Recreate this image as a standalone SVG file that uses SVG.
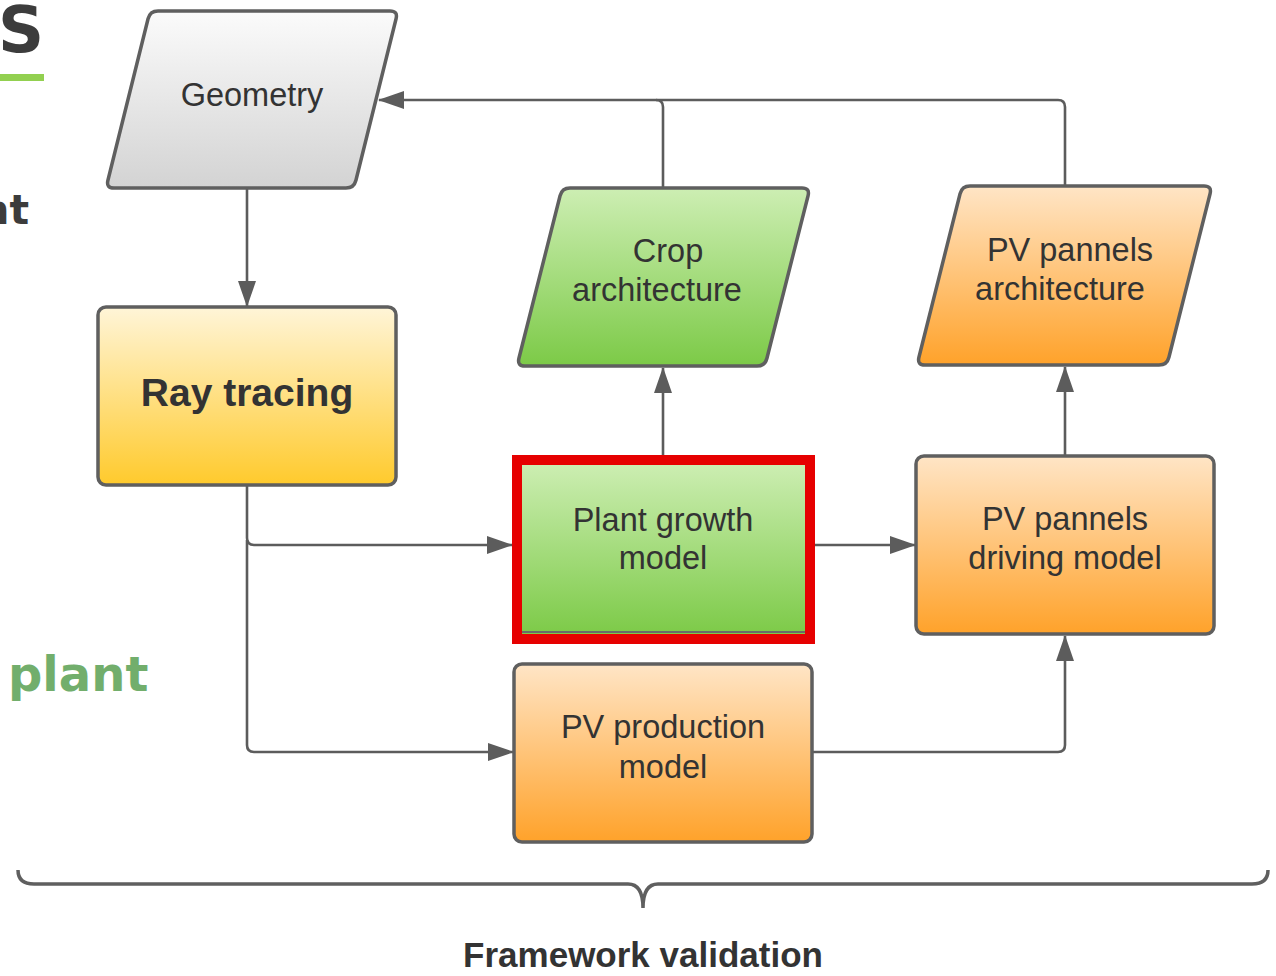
<svg xmlns="http://www.w3.org/2000/svg" width="1276" height="976" viewBox="0 0 1276 976">
  <defs>
    <linearGradient id="gGrey" x1="0" y1="0" x2="0" y2="1">
      <stop offset="0" stop-color="#fbfbfb"/>
      <stop offset="1" stop-color="#d3d3d3"/>
    </linearGradient>
    <linearGradient id="gYellow" x1="0" y1="0" x2="0" y2="1">
      <stop offset="0" stop-color="#fff5d8"/>
      <stop offset="1" stop-color="#ffca2c"/>
    </linearGradient>
    <linearGradient id="gGreen" x1="0" y1="0" x2="0" y2="1">
      <stop offset="0" stop-color="#cdeeb3"/>
      <stop offset="1" stop-color="#7cca47"/>
    </linearGradient>
    <linearGradient id="gOrange" x1="0" y1="0" x2="0" y2="1">
      <stop offset="0" stop-color="#ffe5c6"/>
      <stop offset="1" stop-color="#ffa22a"/>
    </linearGradient>
    <marker id="arrow" viewBox="0 0 26 18" refX="25" refY="9" markerWidth="26" markerHeight="18" markerUnits="userSpaceOnUse" orient="auto">
      <path d="M0,0 L26,9 L0,18 Z" fill="#5c5c5c"/>
    </marker>
    <style>
      .shape { stroke: #5f5f5f; stroke-width: 3.5; stroke-linejoin: round; }
      .label { font-family: "Liberation Sans", Arial, sans-serif; font-size: 32.5px; fill: #333333; text-anchor: middle; }
      .title { font-size: 39px; font-weight: bold; }
      .caption { font-size: 35px; font-weight: bold; }
      .conn { fill: none; stroke: #5c5c5c; stroke-width: 2.6; }
      .side { font-family: "DejaVu Sans", Verdana, sans-serif; font-weight: bold; }
    </style>
  </defs>

  <!-- fragments of the surrounding slide, clipped by the page edge -->
  <g id="slide-fragments">
    <text class="side" x="44" y="52" font-size="64" fill="#3c3c3c" text-anchor="end">S</text>
    <rect x="0" y="74" width="44" height="7" fill="#92d050"/>
    <text class="side" x="29" y="224" font-size="41" fill="#3c3c3c" text-anchor="end">nt</text>
    <text class="side" x="8" y="691" font-size="48" fill="#72ae6c">plant</text>
  </g>

  <!-- connectors -->
  <g id="connectors">
    <path class="conn" d="M247,188 V306" marker-end="url(#arrow)"/>
    <path class="conn" d="M247,486 V538 Q247,545 254,545 H512" marker-end="url(#arrow)"/>
    <path class="conn" d="M247,540 V745 Q247,752 254,752 H513" marker-end="url(#arrow)"/>
    <path class="conn" d="M815,545 H915" marker-end="url(#arrow)"/>
    <path class="conn" d="M812,752 H1058 Q1065,752 1065,745 V636" marker-end="url(#arrow)"/>
    <path class="conn" d="M663,455 V368" marker-end="url(#arrow)"/>
    <path class="conn" d="M1065,456 V367" marker-end="url(#arrow)"/>
    <path class="conn" d="M1065,186 V107 Q1065,100 1058,100 H379" marker-end="url(#arrow)"/>
    <path class="conn" d="M663,188 V107 Q663,100 656,100"/>
  </g>

  <!-- nodes -->
  <g id="geometry">
    <path class="shape" fill="url(#gGrey)" d="M158,11 H390 Q398,11 396.07,18.76 L355.93,180.24 Q354,188 346,188 H114 Q106,188 107.93,180.24 L148.07,18.76 Q150,11 158,11 Z"/>
    <text class="label" x="252" y="106">Geometry</text>
  </g>

  <g id="ray-tracing">
    <rect class="shape" fill="url(#gYellow)" x="98" y="307" width="298" height="178" rx="8"/>
    <text class="label title" x="247" y="406">Ray tracing</text>
  </g>

  <g id="crop-architecture">
    <path class="shape" fill="url(#gGreen)" d="M570,188 H802 Q810,188 808.07,195.76 L766.93,358.24 Q765,366 757,366 H525 Q517,366 518.93,358.24 L560.07,195.76 Q562,188 570,188 Z"/>
    <text class="label" x="668" y="262">Crop</text>
    <text class="label" x="657" y="301">architecture</text>
  </g>

  <g id="pv-pannels-architecture">
    <path class="shape" fill="url(#gOrange)" d="M970,186 H1204 Q1212,186 1210.07,193.76 L1168.93,357.24 Q1167,365 1159,365 H925 Q917,365 918.93,357.24 L960.07,193.76 Q962,186 970,186 Z"/>
    <text class="label" x="1070" y="261">PV pannels</text>
    <text class="label" x="1060" y="300">architecture</text>
  </g>

  <g id="plant-growth-model">
    <rect fill="url(#gGreen)" x="519" y="462" width="290" height="174"/>
    <line x1="522" y1="632" x2="806" y2="632" stroke="#6a6a6a" stroke-width="2"/>
    <rect x="517" y="460" width="293" height="179" fill="none" stroke="#e60000" stroke-width="10"/>
    <text class="label" x="663" y="531">Plant growth</text>
    <text class="label" x="663" y="569">model</text>
  </g>

  <g id="pv-pannels-driving-model">
    <rect class="shape" fill="url(#gOrange)" x="916" y="456" width="298" height="178" rx="8"/>
    <text class="label" x="1065" y="530">PV pannels</text>
    <text class="label" x="1065" y="569">driving model</text>
  </g>

  <g id="pv-production-model">
    <rect class="shape" fill="url(#gOrange)" x="514" y="664" width="298" height="178" rx="8"/>
    <text class="label" x="663" y="738">PV production</text>
    <text class="label" x="663" y="778">model</text>
  </g>

  <!-- brace grouping the whole framework -->
  <g id="framework-validation">
    <path d="M18,870 Q18,884 34,884 H628 Q643,884 643,908 Q643,884 658,884 H1252 Q1268,884 1268,870" fill="none" stroke="#5f5f5f" stroke-width="3.5"/>
    <text class="label caption" x="643" y="967">Framework validation</text>
  </g>
</svg>
